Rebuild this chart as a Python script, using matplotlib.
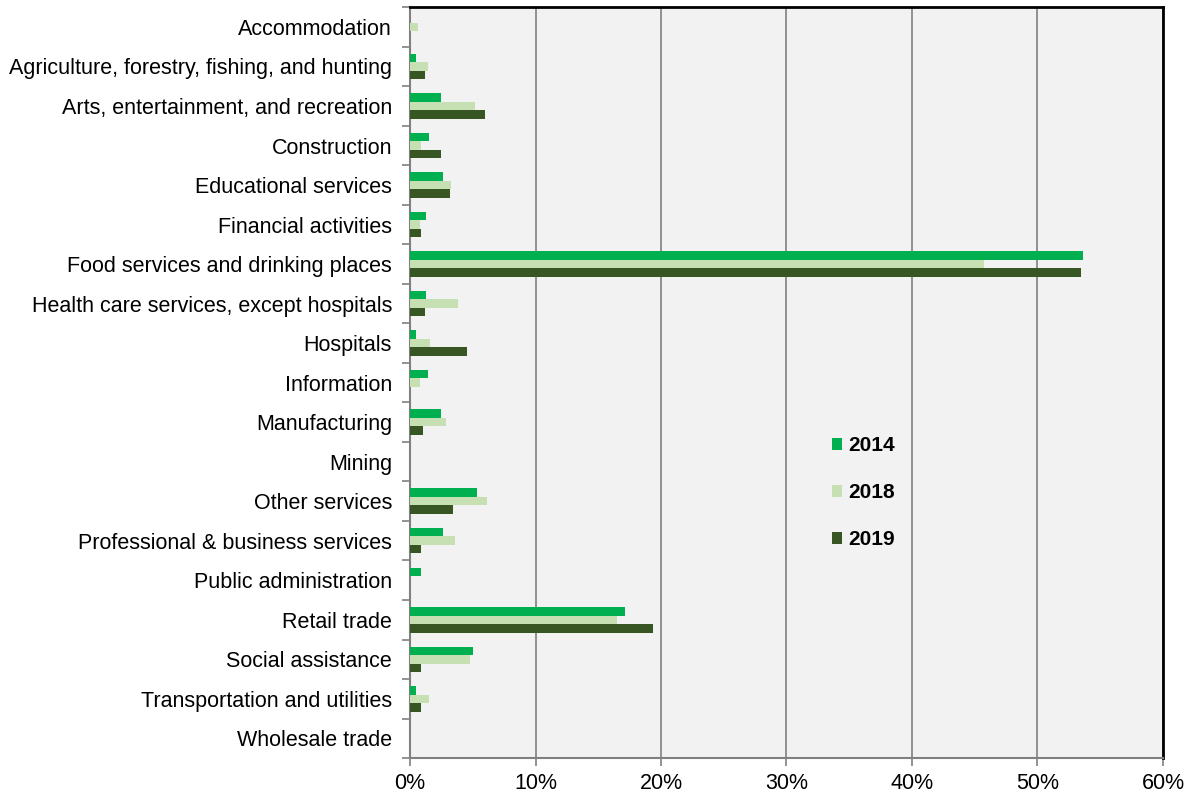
import matplotlib.pyplot as plt
import numpy as np
from matplotlib.patches import Patch
from matplotlib.ticker import FuncFormatter, FixedLocator

plt.rcParams['font.family'] = ['Liberation Sans', 'DejaVu Sans']

categories = [
    'Accommodation',
    'Agriculture, forestry, fishing, and hunting',
    'Arts, entertainment, and recreation',
    'Construction',
    'Educational services',
    'Financial activities',
    'Food services and drinking places',
    'Health care services, except hospitals',
    'Hospitals',
    'Information',
    'Manufacturing',
    'Mining',
    'Other services',
    'Professional & business services',
    'Public administration',
    'Retail trade',
    'Social assistance',
    'Transportation and utilities',
    'Wholesale trade',
]

# shares in percent
share_2014 = [0.0, 0.5, 2.5, 1.55, 2.65, 1.3, 53.65, 1.3, 0.5, 1.4, 2.5, 0.0,
              5.35, 2.6, 0.9, 17.15, 5.0, 0.45, 0.0]
share_2018 = [0.65, 1.4, 5.2, 0.9, 3.3, 0.8, 45.7, 3.8, 1.6, 0.8, 2.85, 0.0,
              6.1, 3.6, 0.0, 16.5, 4.8, 1.5, 0.0]
share_2019 = [0.0, 1.2, 5.95, 2.5, 3.2, 0.9, 53.5, 1.2, 4.55, 0.0, 1.05, 0.0,
              3.4, 0.9, 0.0, 19.4, 0.85, 0.9, 0.0]

years = ['2014', '2018', '2019']
colors = ['#00B050', '#C6E0B4', '#375623']

fig = plt.figure(figsize=(11.94, 7.98), dpi=100)
ax = fig.add_axes([0.3434, 0.05, 0.6306, 0.941])
ax.set_facecolor('#F2F2F2')

y = np.arange(len(categories))
h = 0.215
offsets = [-h, 0.0, h]
for vals, off, col, lab in zip([share_2014, share_2018, share_2019], offsets, colors, years):
    ax.barh(y + off, vals, height=h, color=col, label=lab, zorder=3)

ax.set_xlim(0, 60)
ax.set_ylim(len(categories) - 0.5, -0.5)
ax.set_xticks(np.arange(0, 61, 10))
ax.xaxis.set_major_formatter(FuncFormatter(lambda v, p: f'{v:.0f}%'))
ax.grid(axis='x', color='#808080', linewidth=1.2, zorder=1)

ax.set_yticks(y)
ax.set_yticklabels(categories)
ax.yaxis.set_minor_locator(FixedLocator(np.arange(-0.5, len(categories), 1)))
ax.tick_params(axis='y', which='major', length=0, pad=13, labelsize=15.5)
ax.tick_params(axis='y', which='minor', length=6, color='#808080', width=1.2)
ax.tick_params(axis='x', length=6, color='#808080', width=1.2, labelsize=15.5, pad=5)

ax.spines['left'].set_color('#808080')
ax.spines['left'].set_linewidth(1.5)
ax.spines['bottom'].set_color('#808080')
ax.spines['bottom'].set_linewidth(1.5)
ax.spines['top'].set_color('black')
ax.spines['top'].set_linewidth(2)
ax.spines['right'].set_color('black')
ax.spines['right'].set_linewidth(2)

handles = [Patch(facecolor=c, label=l) for c, l in zip(colors, years)]
ax.legend(handles=handles, loc='upper left', bbox_to_anchor=(0.549, 0.44),
          borderaxespad=0, frameon=False, handlelength=0.5, handleheight=0.5,
          handletextpad=0.3, labelspacing=1.35,
          prop={'weight': 'bold', 'size': 15})

fig.savefig('out.png', dpi=100)
